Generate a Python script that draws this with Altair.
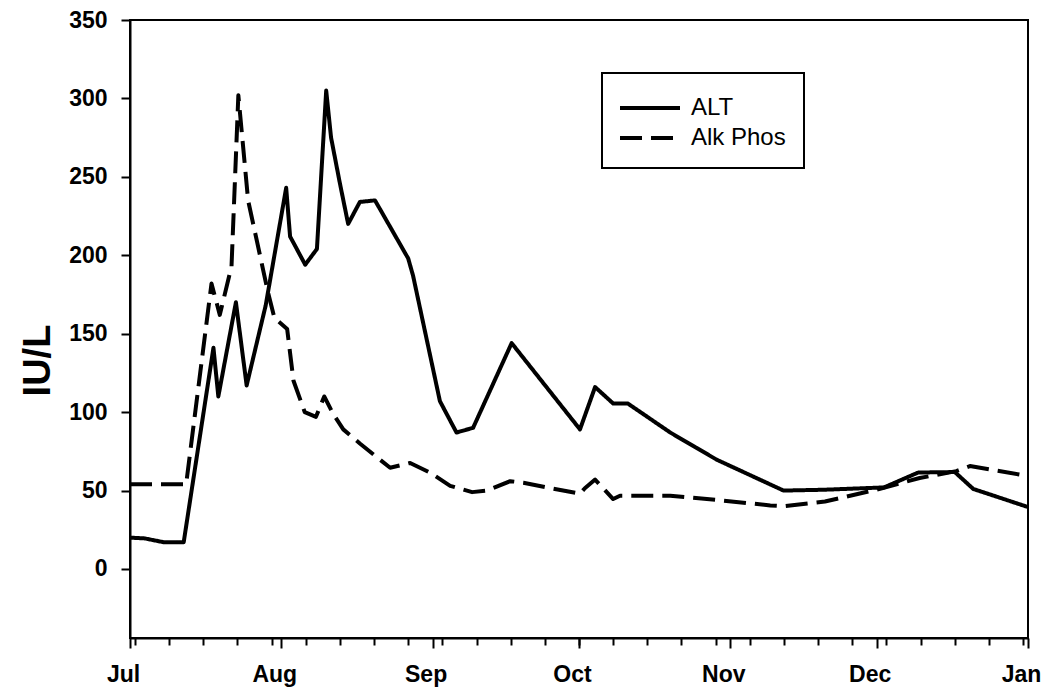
import altair as alt
import pandas as pd

# Day offsets counted from Jul 1 (Jul 1 = 0, Jan 1 = 184)
month_labels = ["Jul", "Aug", "Sep", "Oct", "Nov", "Dec", "Jan"]
month_days = [0, 31, 62, 92, 123, 153, 184]
week_days = [1 + 7 * k for k in range(27)]

y_ticks = [0, 50, 100, 150, 200, 250, 300, 350]

alt_days = [0, 3, 7, 11, 17.1, 18.1, 21.7, 23.9, 27.8, 32.0, 32.8, 35.9, 38.3,
            40.2, 41.2, 43.0, 44.7, 47.1, 50.2, 57.0, 58.0, 63.5, 66.9, 70.3,
            78.2, 92.2, 95.3, 99.0, 102.0, 110.7, 120.2, 133.9, 142.0, 154.5,
            161.5, 169.0, 172.8, 184.0]
alt_values = [20, 19.5, 17, 17, 141, 110, 170, 117, 168, 243, 212, 194, 204,
              305, 275, 246, 220, 234, 235, 198, 187, 107, 87, 90,
              144, 89, 116, 105.5, 105.5, 87, 69.7, 50, 50.5, 52,
              61.5, 61.8, 51, 39.5]

alp_days = [0, 11.5, 16.7, 18.4, 20.8, 22.2, 24.2, 28.3, 29.6, 32.2, 33.5,
            35.8, 38.1, 39.8, 41.6, 43.7, 47.1, 53.3, 57.4, 61.5, 65.6, 70.1,
            73.1, 77.9, 80.6, 85.4, 92.2, 93.2, 95.3, 99.0, 100.4, 110.7,
            121.6, 131.2, 134.0, 142.4, 153.5, 161.8, 169.3, 172.1, 184.0]
alp_values = [54, 54, 182, 162, 193, 302, 235, 176, 160, 153, 120,
              100, 97, 110, 99, 89, 80, 64.5, 67.6, 61.4, 53, 49,
              50, 56, 55, 52, 48, 51.5, 57, 44.6, 46.7, 46.7,
              43.6, 40.5, 40, 43, 51, 58, 62.4, 65.6, 59.3]

series_names = ["ALT", "Alk Phos"]

df = pd.concat([
    pd.DataFrame({"day": alt_days, "value": alt_values, "series": series_names[0], "order": range(len(alt_days))}),
    pd.DataFrame({"day": alp_days, "value": alp_values, "series": series_names[1], "order": range(len(alp_days))}),
])

label_expr = ""
for d, m in zip(month_days, month_labels):
    label_expr += f"datum.value=={d}?'{m}':"
label_expr += "''"

FONT = "Liberation Sans"
W, H = 898, 618

x_major = alt.X(
    "day:Q",
    scale=alt.Scale(domain=[0, 184], nice=False, zero=False),
    axis=alt.Axis(
        orient="bottom", values=month_days, labels=False, title=None,
        grid=False, tickSize=10, tickWidth=2, tickColor="black",
        domainColor="black", domainWidth=2,
    ),
)

y_enc = alt.Y(
    "value:Q",
    scale=alt.Scale(domain=[-44, 350], nice=False, zero=False),
    axis=alt.Axis(
        values=y_ticks, title="IU/L", grid=False, tickSize=9, tickWidth=2,
        tickColor="black", domainColor="black", domainWidth=2,
        labelFont=FONT, labelFontSize=23, labelFontWeight="bold",
        labelColor="black", labelPadding=14,
        titleFont=FONT, titleFontSize=38, titleFontWeight="bold",
        titleColor="black", titleAngle=270, titleX=-92, titleY=340,
        titleAlign="center", titleBaseline="middle",
    ),
)

lines = alt.Chart(df).mark_line(color="black", strokeWidth=4, strokeJoin="round").encode(
    x=x_major,
    y=y_enc,
    order="order:Q",
    strokeDash=alt.StrokeDash(
        "series:N",
        scale=alt.Scale(domain=series_names, range=[[1, 0], [22, 9]]),
        legend=alt.Legend(
            title=None, orient="none", legendX=472, legendY=53,
            strokeColor="black", padding=18, fillColor="white",
            symbolType="M-2,0L2,0", symbolSize=900, symbolStrokeWidth=4,
            symbolStrokeColor="black", symbolOffset=13,
            labelFont=FONT, labelFontSize=24,
            labelColor="black", labelOffset=24, rowPadding=1,
        ),
    ),
)

minor = alt.Chart(pd.DataFrame({"day": week_days})).mark_point(opacity=0).encode(
    x=alt.X(
        "day:Q",
        scale=alt.Scale(domain=[0, 184], nice=False, zero=False),
        axis=alt.Axis(
            orient="bottom", values=week_days, labels=False, title=None,
            grid=False, tickSize=7, tickWidth=2, tickColor="black", domain=False,
        ),
    ),
)

# month names, centred a few pixels left of their ticks as in the original
month_text = alt.Chart(pd.DataFrame({"day": month_days})).mark_point(opacity=0).encode(
    x=alt.X(
        "day:Q",
        scale=alt.Scale(domain=[0, 184], nice=False, zero=False, range=[-7, W - 7]),
        axis=alt.Axis(
            orient="bottom", values=month_days, labelExpr=label_expr, title=None,
            grid=False, ticks=False, domain=False, labelFont=FONT,
            labelFontSize=23, labelFontWeight="bold", labelColor="black",
            labelPadding=25, labelFlush=False, labelOverlap=False,
        ),
    ),
)

chart = alt.layer(lines, minor, month_text).resolve_scale(x="independent").resolve_axis(x="independent").properties(
    width=W, height=H,
    autosize=alt.AutoSizeParams(type="none"),
    padding={"left": 122, "top": 12, "right": 14, "bottom": 54},
).configure_view(stroke="black", strokeWidth=2).configure_legend(strokeWidth=2)

chart.save("out.html", embed_options={"renderer": "svg", "actions": False})
